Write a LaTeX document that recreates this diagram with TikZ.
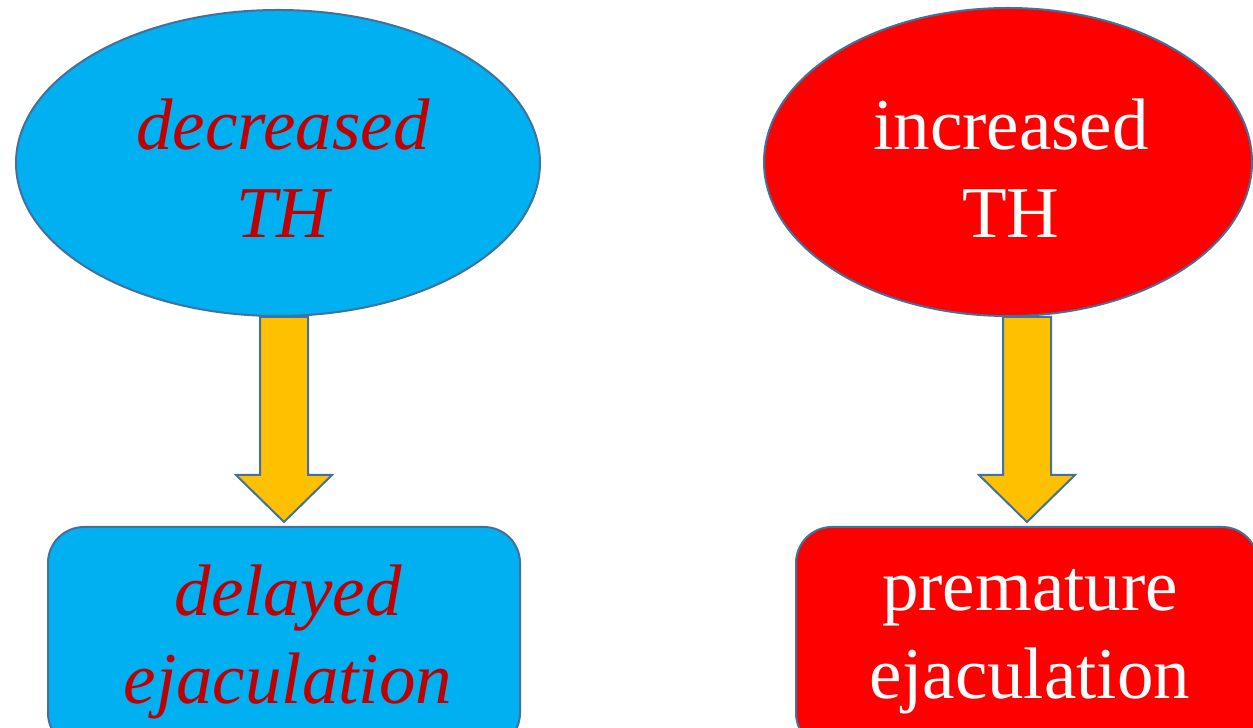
\documentclass[tikz,border=0pt]{standalone}
\usepackage{fontspec}
\setmainfont{Liberation Serif}
\usetikzlibrary{shapes.geometric,calc}
\definecolor{skyblue}{HTML}{00B0F0}
\definecolor{brightred}{HTML}{FF0000}
\definecolor{darkred}{HTML}{C00000}
\definecolor{gold}{HTML}{FFC000}
\definecolor{edge}{HTML}{41719C}
\begin{document}
\begin{tikzpicture}[x=1pt,y=1pt,
  bigtext/.style={align=center,font=\fontsize{73}{88}\selectfont,inner sep=0pt},
  oval/.style={ellipse,draw=edge,line width=2pt,inner sep=0pt},
  boxnode/.style={rectangle,rounded corners=36pt,draw=edge,line width=2pt,inner sep=0pt},
  blockarrow/.style={fill=gold,draw=edge,line width=2pt,line join=miter}]
\useasboundingbox (0,0) rectangle (1253,728);
% ovals
\node[oval,fill=skyblue,minimum width=524pt,minimum height=306pt] (e1) at (278,565) {};
\node[bigtext,text=darkred,font=\fontsize{73}{88}\selectfont\itshape] (t1) at (283,560) {decreased\\TH};
\node[oval,fill=brightred,minimum width=488pt,minimum height=308pt] (e2) at (1008,566) {};
\node[bigtext,text=white] (t2) at (1011,560) {increased\\TH};
% boxes
\node[boxnode,fill=skyblue,minimum width=472pt,minimum height=222pt] (b1) at (284,90) {};
\node[bigtext,text=darkred,font=\fontsize{73}{88}\selectfont\itshape] (t3) at (288,86) {delayed\\ejaculation};
\node[boxnode,fill=brightred,minimum width=462pt,minimum height=222pt] (b2) at (1027,90) {};
\node[bigtext,text=white] (t4) at (1030,86) {premature\\ejaculation};
% block arrows
\foreach \e/\b in {e1/b1,e2/b2}{
  \draw[blockarrow]
    ([xshift=-24pt]\b.north |- \e.south) --
    ([xshift=24pt]\b.north |- \e.south) --
    ($([xshift=24pt]\b.north)+(0,51)$) --
    ($([xshift=48pt]\b.north)+(0,51)$) --
    ([yshift=4pt]\b.north) --
    ($([xshift=-48pt]\b.north)+(0,51)$) --
    ($([xshift=-24pt]\b.north)+(0,51)$) -- cycle;
}
\end{tikzpicture}
\end{document}
